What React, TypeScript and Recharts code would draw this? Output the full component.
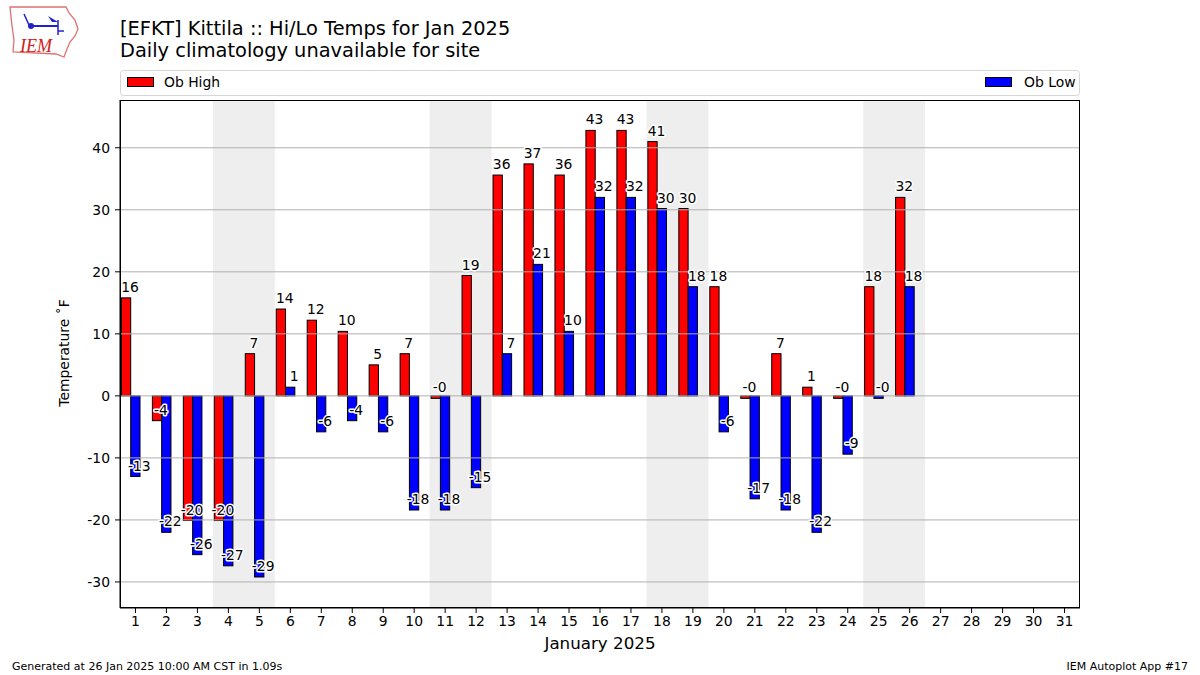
import React from "react";
import {
  BarChart,
  Bar,
  XAxis,
  YAxis,
  ReferenceArea,
  ReferenceLine,
  LabelList,
} from "recharts";

const days = [
  "1", "2", "3", "4", "5", "6", "7", "8", "9", "10", "11", "12", "13", "14", "15", "16",
  "17", "18", "19", "20", "21", "22", "23", "24", "25", "26", "27", "28", "29", "30", "31",
];

// observed daily high / low in F (days 27-31 not yet observed)
const highs = [
  15.8, -4.0, -20.1, -20.1, 6.8, 14.0, 12.2, 10.4, 5.0, 6.8, -0.4, 19.4, 35.6, 37.4, 35.6, 42.8,
  42.8, 41.0, 30.2, 17.6, -0.4, 6.8, 1.4, -0.4, 17.6, 32.0, null, null, null, null, null,
];
const lows = [
  -13.0, -22.0, -25.6, -27.4, -29.2, 1.4, -5.8, -4.0, -5.8, -18.4, -18.4, -14.8, 6.8, 21.2, 10.4, 32.0,
  32.0, 30.2, 17.6, -5.8, -16.6, -18.4, -22.0, -9.4, -0.4, 17.6, null, null, null, null, null,
];

const weekendStart = ["4", "11", "18", "25"];
const weekendEnd = ["5", "12", "19", "26"];
const yTicks = [-30, -20, -10, 0, 10, 20, 30, 40];

const FONT = "DejaVu Sans, sans-serif";
const SHIFT = 4.6; // bars sit a bit left of the day tick

const data = days.map((d, i) => ({ day: d, high: highs[i], low: lows[i] }));

const ShiftedBar = (props: any) => {
  const { x, y, width, height, fill } = props;
  if (x == null || y == null) return null;
  const top = Math.min(y, y + height);
  const h = Math.abs(height);
  return (
    <rect
      x={x - SHIFT}
      y={top}
      width={width}
      height={h}
      fill={fill}
      stroke="#000"
      strokeWidth={1}
    />
  );
};

const renderValue = (props: any) => {
  const { x, y, width, height, value } = props;
  if (value == null) return null;
  const end = value >= 0 ? Math.min(y, y + height) : Math.max(y, y + height);
  return (
    <text
      x={x - SHIFT + width / 2 + 4}
      y={end - 6}
      textAnchor="middle"
      fontSize={13.9}
      fontFamily={FONT}
      fill="#000"
      stroke="#fff"
      strokeWidth={3}
      paintOrder="stroke"
      strokeLinejoin="round"
    >
      {Number(value).toFixed(0)}
    </text>
  );
};

const Logo = () => (
  <g>
    <path
      d="M10,7 L66,7 L69,13 L75,20 L78,29 L75,36 L70,42 L67,49 L64,57 L56,54 L13,52 L14,40 L12,26 Z"
      fill="none"
      stroke="#e07070"
      strokeWidth={1.3}
    />
    <line x1={31} y1={26} x2={58} y2={26} stroke="#2020d0" strokeWidth={2} />
    <circle cx={31} cy={26} r={3} fill="#2020d0" />
    <line x1={24} y1={14} x2={29} y2={25} stroke="#2020d0" strokeWidth={1.5} />
    <path d="M48,16 L58,22 L52,22 Z" fill="#2020d0" />
    <line x1={58} y1={20} x2={58} y2={35} stroke="#2020d0" strokeWidth={1.5} />
    <line x1={58} y1={31} x2={64} y2={31} stroke="#2020d0" strokeWidth={1.5} />
    <text
      x={20}
      y={52}
      fontSize={18}
      fontStyle="italic"
      fontFamily="Liberation Serif, serif"
      fill="#d02020"
    >
      IEM
    </text>
  </g>
);

const App = () => {
  return (
    <div
      style={{
        position: "absolute",
        left: 0,
        top: 0,
        width: 1200,
        height: 675,
        background: "#fff",
        fontFamily: FONT,
      }}
    >
      <BarChart
        width={1200}
        height={675}
        data={data}
        margin={{ top: 100, right: 120, bottom: 37, left: 60 }}
        barSize={9.3}
        barGap={0}
      >
        {weekendStart.map((s, i) => (
          <ReferenceArea
            key={s}
            x1={s}
            x2={weekendEnd[i]}
            fill="#eeeeee"
            fillOpacity={1}
            stroke="none"
            ifOverflow="hidden"
          />
        ))}
        <XAxis
          dataKey="day"
          type="category"
          interval={0}
          height={30}
          tickSize={5}
          tickMargin={3}
          axisLine={{ stroke: "#000" }}
          tickLine={{ stroke: "#000" }}
          tick={{ fontSize: 13.9, fill: "#000", fontFamily: FONT }}
        />
        <YAxis
          type="number"
          width={60}
          domain={[-34.2, 47.7]}
          ticks={yTicks}
          allowDataOverflow
          tickSize={5}
          tickMargin={5}
          axisLine={{ stroke: "#000" }}
          tickLine={{ stroke: "#000" }}
          tick={{ fontSize: 13.9, fill: "#000", fontFamily: FONT }}
        />
        <Bar dataKey="high" fill="#ff0000" shape={ShiftedBar} isAnimationActive={false}>
          <LabelList dataKey="high" content={renderValue} />
        </Bar>
        <Bar dataKey="low" fill="#0000ff" shape={ShiftedBar} isAnimationActive={false}>
          <LabelList dataKey="low" content={renderValue} />
        </Bar>
        {yTicks.map((t) => (
          <ReferenceLine key={t} y={t} stroke="#b0b0b0" strokeWidth={1} />
        ))}
      </BarChart>

      <svg
        width={1200}
        height={675}
        style={{ position: "absolute", left: 0, top: 0, pointerEvents: "none" }}
        fontFamily={FONT}
      >
        <Logo />
        <text x={120} y={35} fontSize={19.4} fill="#000">
          [EFKT] Kittila :: Hi/Lo Temps for Jan 2025
        </text>
        <text x={120} y={57} fontSize={19.4} fill="#000">
          Daily climatology unavailable for site
        </text>

        <rect x={120.5} y={70.5} width={959} height={25} rx={3} fill="#fff" stroke="#d6d6d6" />
        <rect x={127.5} y={77.5} width={26} height={9} fill="#ff0000" stroke="#000" />
        <text x={164} y={87} fontSize={13.9} fill="#000">
          Ob High
        </text>
        <rect x={985.5} y={77.5} width={26} height={9} fill="#0000ff" stroke="#000" />
        <text x={1024} y={87} fontSize={13.9} fill="#000">
          Ob Low
        </text>

        <rect x={120.5} y={100.5} width={959} height={507} fill="none" stroke="#000" />

        <text
          transform="translate(69,353) rotate(-90)"
          textAnchor="middle"
          fontSize={13.9}
          fill="#000"
        >
          Temperature ˚F
        </text>
        <text x={600} y={649} textAnchor="middle" fontSize={16.7} fill="#000">
          January 2025
        </text>
        <text x={12} y={670} fontSize={11} fill="#000">
          Generated at 26 Jan 2025 10:00 AM CST in 1.09s
        </text>
        <text x={1188} y={670} textAnchor="end" fontSize={11} fill="#000">
          IEM Autoplot App #17
        </text>
      </svg>
    </div>
  );
};

export default App;
